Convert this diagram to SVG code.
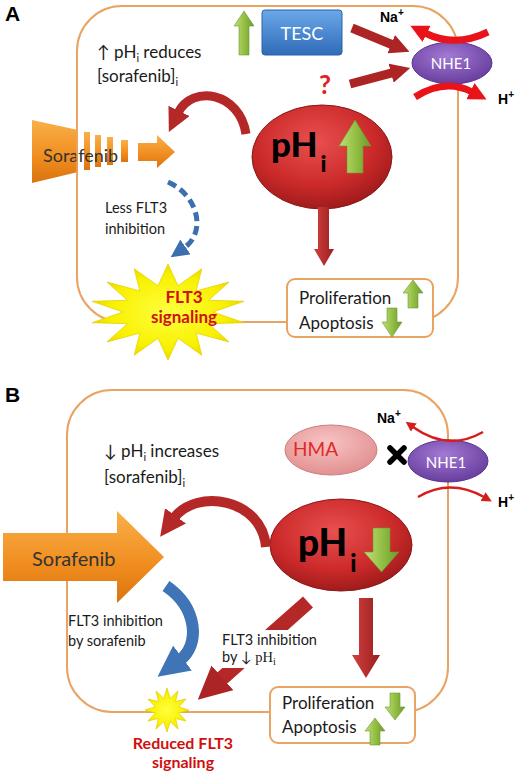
<svg xmlns="http://www.w3.org/2000/svg" width="520" height="773" viewBox="0 0 520 773">
<defs>
<style>
.cell{fill:none;stroke:#e9a464;stroke-width:2}
.box{fill:#fff;stroke:#e9a464;stroke-width:2}
.t{font-family:Lato,"Liberation Sans",sans-serif;fill:#1a1a1a}
.lbl{font-family:"Liberation Sans",Arial,sans-serif;font-weight:bold;fill:#000}
.grn{fill:url(#gG);stroke:#6a9a30;stroke-width:0.6}
.red{fill:url(#gR)}
.org{fill:url(#gO)}
.ion{font-family:"Liberation Sans",Arial,sans-serif;font-weight:bold;font-size:14px;fill:#000}
.flt{font-family:Lato,"Liberation Sans",sans-serif;font-weight:bold;fill:#d01010;text-anchor:middle}
</style>
<linearGradient id="gG" x1="0" y1="0" x2="1" y2="0"><stop offset="0" stop-color="#c2df78"/><stop offset="0.5" stop-color="#94c046"/><stop offset="1" stop-color="#6c9a2c"/></linearGradient>
<linearGradient id="gR" x1="0" y1="0" x2="1" y2="0"><stop offset="0" stop-color="#d24040"/><stop offset="1" stop-color="#9a1e1e"/></linearGradient>
<linearGradient id="gO" x1="0" y1="0" x2="0" y2="1"><stop offset="0" stop-color="#f9b04a"/><stop offset="0.6" stop-color="#f08c1e"/><stop offset="1" stop-color="#d97410"/></linearGradient>
<linearGradient id="gB" x1="0" y1="0" x2="0" y2="1"><stop offset="0" stop-color="#6aa8e8"/><stop offset="1" stop-color="#2f6bb8"/></linearGradient>
<radialGradient id="gP" cx="0.45" cy="0.35" r="0.7"><stop offset="0" stop-color="#e85050"/><stop offset="0.6" stop-color="#cc2a2a"/><stop offset="1" stop-color="#961818"/></radialGradient>
<radialGradient id="gN" cx="0.45" cy="0.35" r="0.7"><stop offset="0" stop-color="#a27ad4"/><stop offset="1" stop-color="#64399a"/></radialGradient>
<radialGradient id="gH" cx="0.45" cy="0.35" r="0.7"><stop offset="0" stop-color="#f8c4c4"/><stop offset="1" stop-color="#e08c8c"/></radialGradient>
<radialGradient id="gY" cx="0.5" cy="0.5" r="0.55"><stop offset="0" stop-color="#ffff40"/><stop offset="0.7" stop-color="#f8f000"/><stop offset="1" stop-color="#e0d000"/></radialGradient>
<marker id="mR" viewBox="0 0 10 10" refX="1" refY="5" markerWidth="2.2" markerHeight="2.2" orient="auto"><path d="M0,0 L10,5 L0,10 z" fill="#ad2424"/></marker>
<marker id="mR2" viewBox="0 0 10 10" refX="1" refY="5" markerWidth="2.6" markerHeight="2.6" orient="auto"><path d="M0,0 L10,5 L0,10 z" fill="#b52828"/></marker>
<marker id="mBr" viewBox="0 0 10 10" refX="1" refY="5" markerWidth="2.6" markerHeight="2.6" orient="auto"><path d="M0,0 L10,5 L0,10 z" fill="#e8141a"/></marker>
<marker id="mBt" viewBox="0 0 10 10" refX="1" refY="5" markerWidth="4" markerHeight="4" orient="auto"><path d="M0,0 L10,5 L0,10 z" fill="#d81c1c"/></marker>
<marker id="mBl" viewBox="0 0 10 10" refX="1" refY="5" markerWidth="3.6" markerHeight="3.6" orient="auto"><path d="M0,0 L10,5 L0,10 z" fill="#3c6fae"/></marker>
<marker id="mBl2" viewBox="0 0 10 10" refX="1" refY="5" markerWidth="2.6" markerHeight="2.6" orient="auto"><path d="M0,0 L10,5 L0,10 z" fill="#3f74b6"/></marker>
</defs>
<rect width="520" height="773" fill="#fff"/>

<!-- Panel A -->
<text class="lbl" x="5" y="21" font-size="21">A</text>
<rect id="cellA" class="cell" x="77" y="6" width="381" height="316" rx="45"/>
<g id="sorafenibA">
<path class="org" d="M32 120 L78 130 L78 172 L32 183 Z"/>
<rect class="org" x="84" y="132" width="6" height="38"/>
<rect class="org" x="95" y="135" width="6" height="32"/>
<rect class="org" x="107" y="137" width="6" height="28"/>
<rect class="org" x="121" y="140" width="7" height="22"/>
<path class="org" d="M138 143 L157 143 L157 135 L175 152 L157 168 L157 161 L138 161 Z"/>
<text class="t" x="43" y="162" font-size="18" style="fill:#333">Sorafenib</text>
</g>
<line x1="77" y1="120" x2="77" y2="183" stroke="#e9a464" stroke-width="1.5"/>
<text class="t" x="97" y="58" font-size="17">↑ pH<tspan font-size="11" dy="4">i</tspan><tspan dy="-4"> reduces</tspan></text>
<text class="t" x="97" y="82" font-size="17">[sorafenib]<tspan font-size="11" dy="4">i</tspan></text>
<g id="tescA">
<path class="grn" d="M244 11 L254 26 L249 26 L249 55 L239 55 L239 26 L234 26 Z"/>
<rect x="262" y="10" width="80" height="45" rx="3" fill="url(#gB)" stroke="#2d63a8"/>
<text class="t" x="302" y="40" font-size="18" text-anchor="middle" style="fill:#fff">TESC</text>
</g>
<text class="t" x="325" y="94" font-size="26" font-weight="bold" text-anchor="middle" style="fill:#e02020">?</text>
<g id="nhe1A">
<ellipse cx="452" cy="63" rx="40" ry="21" fill="url(#gN)" stroke="#5a3390"/>
<text class="t" x="451" y="69" font-size="15" text-anchor="middle" style="fill:#fff">NHE1</text>
</g>
<text class="ion" x="380" y="22">Na<tspan font-size="10" dy="-6">+</tspan></text>
<text class="ion" x="498" y="104">H<tspan font-size="10" dy="-6">+</tspan></text>
<g id="phA">
<ellipse cx="322" cy="157" rx="70" ry="52" fill="url(#gP)" stroke="#8a1818"/>
<text class="t" x="271" y="157" font-size="35" font-weight="900" style="fill:#000">pH<tspan font-size="23" dx="3" dy="15">i</tspan></text>
<path class="grn" d="M355 120 L371 146 L363 146 L363 173 L347 173 L347 146 L339 146 Z"/>
</g>
<g id="starA">
<polygon points="168,264 178,285.7 201.8,268.8 196.1,290.9 229,282.1 208.5,300.3 244,301.3 213,312 244,322.7 208.5,323.7 229,341.9 196.1,333.1 201.8,355.2 178,338.3 168,360 158,338.3 134.2,355.2 139.9,333.1 107,341.9 127.5,323.7 92,322.7 123,312 92,301.3 127.5,300.3 107,282.1 139.9,290.9 134.2,268.8 158,285.7" fill="url(#gY)" stroke="#e8d000" stroke-width="0.8"/>
<text class="flt" x="184" y="303" font-size="17">FLT3</text>
<text class="flt" x="184" y="323" font-size="17">signaling</text>
</g>
<g id="prolifA">
<rect class="box" x="287" y="279" width="146" height="58" rx="8"/>
<text class="t" x="299" y="304" font-size="17">Proliferation</text>
<text class="t" x="299" y="329" font-size="17">Apoptosis</text>
<path class="grn" d="M413 280 L423 293 L418 293 L418 308 L408 308 L408 293 L403 293 Z"/>
<path class="grn" d="M387 308 L397 308 L397 322 L402 322 L392 337 L382 322 L387 322 Z"/>
</g>
<text class="t" x="105" y="213" font-size="14.5">Less FLT3</text>
<text class="t" x="105" y="234" font-size="14.5">inhibition</text>

<g id="connectorsA" fill="none">
<line x1="352" y1="28" x2="393" y2="45" stroke="#ad2424" stroke-width="9" marker-end="url(#mR)"/>
<line x1="350" y1="84" x2="393" y2="72.6" stroke="#ad2424" stroke-width="9" marker-end="url(#mR)"/>
<path d="M488 32 Q455 48 425 33" stroke="#e8141a" stroke-width="7" marker-end="url(#mBr)"/>
<path d="M415 97 Q445 78 472 92" stroke="#e8141a" stroke-width="7" marker-end="url(#mBr)"/>
<path d="M246 134 C240 92 192 84 178 113" stroke="#b52828" stroke-width="9" marker-end="url(#mR2)"/>
<path d="M168 182 C198 195 207 232 184 248" stroke="#3c6fae" stroke-width="5" stroke-dasharray="9 5" marker-end="url(#mBl)"/>
<path class="red" d="M318 207 L329 207 L329 249 L334 249 L324 266 L314 249 L318 249 Z"/>
</g>

<!-- Panel B -->
<text class="lbl" x="5" y="402" font-size="21">B</text>
<rect id="cellB" class="cell" x="67" y="390" width="381" height="322" rx="45"/>
<text class="t" x="104" y="457" font-size="17">↓ pH<tspan font-size="11" dy="4">i</tspan><tspan dy="-4"> increases</tspan></text>
<text class="t" x="104" y="483" font-size="17">[sorafenib]<tspan font-size="11" dy="4">i</tspan></text>
<g id="hmaB">
<ellipse cx="331" cy="450" rx="46" ry="25" fill="url(#gH)" stroke="#c88080"/>
<text class="t" x="293" y="456" font-size="19" style="fill:#e02828">HMA</text>
</g>
<g id="xB" stroke="#000" stroke-width="5.5" stroke-linecap="round">
<line x1="390" y1="448" x2="404" y2="462"/>
<line x1="404" y1="448" x2="390" y2="462"/>
</g>
<g id="nhe1B">
<ellipse cx="448" cy="461" rx="40" ry="21" fill="url(#gN)" stroke="#5a3390"/>
<text class="t" x="446" y="468" font-size="15" text-anchor="middle" style="fill:#fff">NHE1</text>
</g>
<text class="ion" x="377" y="423">Na<tspan font-size="10" dy="-6">+</tspan></text>
<text class="ion" x="498" y="507">H<tspan font-size="10" dy="-6">+</tspan></text>
<g id="sorafenibB">
<path class="org" d="M3 533 L117 533 L117 511 L164 557 L117 603 L117 581 L3 581 Z"/>
<text class="t" x="32" y="566" font-size="20" style="fill:#333">Sorafenib</text>
</g>
<g id="phB">
<ellipse cx="341" cy="545" rx="71" ry="46" fill="url(#gP)" stroke="#8a1818"/>
<text class="t" x="298" y="556" font-size="37" font-weight="900" style="fill:#000">pH<tspan font-size="24" dx="3" dy="16">i</tspan></text>
<path class="grn" d="M373 528 L390 528 L390 552 L399 552 L381.5 572 L364 552 L373 552 Z"/>
</g>
<g id="prolifB">
<rect class="box" x="270" y="687" width="145" height="56" rx="8"/>
<text class="t" x="282" y="709" font-size="17">Proliferation</text>
<text class="t" x="282" y="733" font-size="17">Apoptosis</text>
<path class="grn" d="M390 693 L400 693 L400 707 L405 707 L395 720 L385 707 L390 707 Z"/>
<path class="grn" d="M375 718 L385 731 L380 731 L380 745 L370 745 L370 731 L365 731 Z"/>
</g>
<text class="t" x="68" y="626" font-size="14.5">FLT3 inhibition</text>
<text class="t" x="68" y="646" font-size="14.5">by sorafenib</text>

<g id="connectorsB" fill="none">
<path d="M483 432 Q448 452 413 427" stroke="#d81c1c" stroke-width="2.5" marker-end="url(#mBt)"/>
<path d="M418 497 Q450 478 484 497" stroke="#d81c1c" stroke-width="2.5" marker-end="url(#mBt)"/>
<path d="M266 547 C262 498 196 488 174 518" stroke="#b52828" stroke-width="10" marker-end="url(#mR2)"/>
<path d="M166 586 C198 608 200 645 180 660" stroke="#3f74b6" stroke-width="12" marker-end="url(#mBl2)"/>
<line x1="308" y1="602" x2="220" y2="680" stroke="#b52828" stroke-width="15" marker-end="url(#mR)"/>
<path class="red" d="M359 598 L373 598 L373 655 L380 655 L366 678 L352 655 L359 655 Z"/>
</g>
<rect x="219" y="630" width="102" height="38" fill="#fff"/>
<text class="t" x="222" y="645" font-size="14.5">FLT3 inhibition</text>
<text class="t" x="222" y="662" font-size="14.5">by ↓ <tspan font-family="'Liberation Serif',serif">pH<tspan font-size="10" dy="3">i</tspan></tspan></text>
<g id="starB">
<polygon points="167,688 170.1,698.4 178,690.9 175.5,701.5 186.1,699 178.6,706.9 189,710 178.6,713.1 186.1,721 175.5,718.5 178,729.1 170.1,721.6 167,732 163.9,721.6 156,729.1 158.5,718.5 147.9,721 155.4,713.1 145,710 155.4,706.9 147.9,699 158.5,701.5 156,690.9 163.9,698.4" fill="url(#gY)" stroke="#e8d000" stroke-width="0.8"/>
</g>
<text class="flt" x="183" y="749" font-size="16">Reduced FLT3</text>
<text class="flt" x="183" y="768" font-size="16">signaling</text>
</svg>
